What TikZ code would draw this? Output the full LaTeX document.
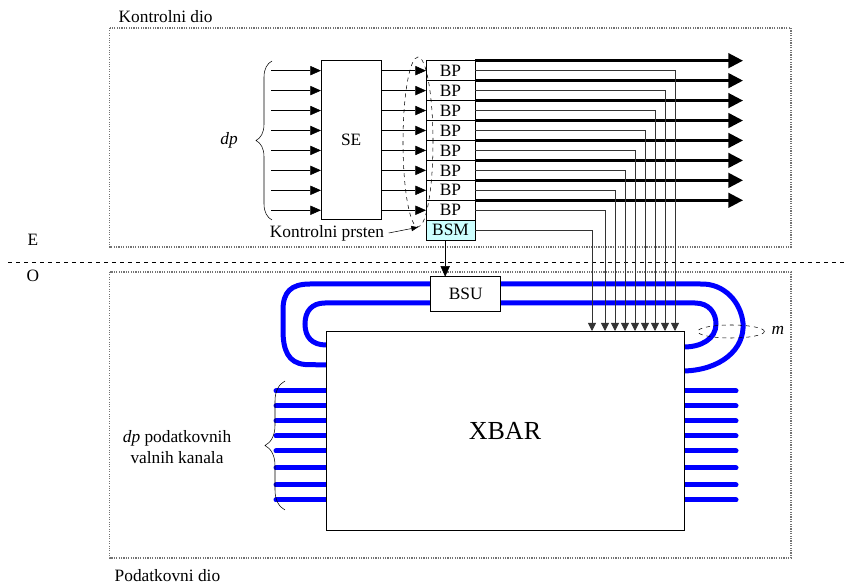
\documentclass[tikz,border=0pt]{standalone}
\usepackage{fontspec}
\setmainfont{Liberation Serif}
\usetikzlibrary{arrows.meta,positioning,shapes.geometric,decorations.pathreplacing,backgrounds}
\definecolor{BSMCyan}{HTML}{CCFFFF}
\definecolor{FibreBlue}{HTML}{0000FF}

\begin{document}
\begin{tikzpicture}[
  x=0.75pt,y=-0.75pt,
  font=\fontsize{13}{15.8}\selectfont,
  part/.style={draw=black!55,densely dotted,line width=0.8pt},
  block/.style={draw,thin,inner sep=0pt,outer sep=0pt},
  bpbox/.style={block,minimum width=36.75pt,minimum height=14.96pt},
  arr/.style={-{Triangle[length=8pt,width=7pt]},thin},
  bigarr/.style={-{Triangle[length=11pt,width=11pt]},line width=1.9pt},
  tap/.style={-{Triangle[length=6pt,width=6pt]},line width=0.6pt,black!80},
  fibre/.style={FibreBlue,line width=3.75pt},
  stub/.style={fibre,line cap=round},
  ring/.style={ellipse,draw,dashed,thin,inner sep=0pt},
  curly/.style={decorate,decoration={brace,amplitude=#1},thin}
]
  \useasboundingbox (0,0) rectangle (844,584);

  % the two parts and the E/O border
  \draw[part] (109.5,28) rectangle (791,247);
  \draw[part] (109.5,272) rectangle (791,558);
  \draw[dashed,thin] (8,262) -- (844,262);
  \node[anchor=west] (kdio) at (114,17) {Kontrolni dio};
  \node[anchor=west] (pdio) at (110,576) {Podatkovni dio};
  \node (e) at (33,240) {E};
  \node (o) at (33,276) {O};

  % control part
  \node[block,minimum width=45.4pt,minimum height=119pt] (se) at (351.2,140) {SE};
  \node[bpbox] (bp1) at (450.5,70.65) {BP};
  \foreach \i in {2,...,8}{
    \pgfmathtruncatemacro\prev{\i-1}
    \node[bpbox,below=0pt of bp\prev] (bp\i) {BP};
  }
  \node[bpbox,fill=BSMCyan,below=0pt of bp8] (bsm) {BSM};

  \coordinate (tips) at (743,0);
  \foreach \i in {1,...,8}{
    \coordinate (in\i) at (271,0 |- bp\i);
    \draw[arr] (in\i) -- (in\i -| se.west);
    \draw[arr] (se.east |- bp\i) -- (bp\i.west);
    \draw[bigarr] (bp\i.north east) -- (bp\i.north east -| tips);
  }
  \draw[curly=12pt] (272,220) -- (272,61);
  \node (dp) at (229,140) {\textit{dp}};

  \node[ring,minimum width=22.5pt,minimum height=127.5pt] (kring) at (418,142) {};
  \node (kp) at (327,233) {Kontrolni prsten};
  \draw[-{Triangle[length=5pt,width=4pt]},thin] (kp.east) -- (kring.south);

  % data part
  \node[block,fill=white,minimum width=268.5pt,minimum height=149.25pt,
        font=\fontsize{19.5}{22}\selectfont] (xbar) at (505,430.5) {XBAR};
  \node[block,fill=white,minimum width=52.5pt,minimum height=26.25pt] (bsu) at (465.7,294.2) {BSU};
  \draw[arr] ([xshift=-4pt]bsm.south) -- ([xshift=-4pt]bsm.south |- bsu.north);

  \begin{pgfonlayer}{background}
    \draw[fibre] (xbar.west |- 0,365) -- (305,364.5)
      .. controls (288,363) and (283,350) .. (283,330) -- (283,310)
      .. controls (283,292) and (291,284) .. (310,284) -- (bsu.west |- 0,284);
    \draw[fibre] (xbar.west |- 0,345) .. controls (312,345) and (305,337) .. (305,324)
      .. controls (305,311) and (312,303) .. (325,303) -- (bsu.west |- 0,303);
    \draw[fibre] (bsu.east |- 0,284) -- (700,284)
      .. controls (725,283) and (741,303) .. (743,323)
      .. controls (745,350) and (720,370) .. (xbar.east |- 0,371);
    \draw[fibre] (bsu.east |- 0,303) -- (695,303)
      .. controls (709,303) and (716,313) .. (716,324)
      .. controls (716,339) and (701,347) .. (xbar.east |- 0,347);
    \foreach \y in {391,406,421,436,451,468,485,500}{
      \draw[stub] (276,\y) -- (xbar.west |- 0,\y);
      \draw[stub] (xbar.east |- 0,\y) -- (736,\y);
    }
  \end{pgfonlayer}

  \foreach \i in {1,...,8}{
    \pgfmathsetmacro\xx{675-10*(\i-1)}
    \coordinate (drop\i) at (\xx,0 |- xbar.north);
    \draw[tap] (bp\i.east) -| (drop\i);
  }
  \coordinate (dropm) at (592,0 |- xbar.north);
  \draw[tap] (bsm.east) -| (dropm);

  \node[ring,minimum width=50pt,minimum height=9.75pt] (mring) at (731,331.5) {};
  \node (m) at (778,330) {\textit{m}};

  \draw[curly=15pt] (285,510) -- (285,381);
  \node[align=center] (dpk) at (177,447) {\textit{dp} podatkovnih\\valnih kanala};
\end{tikzpicture}
\end{document}
